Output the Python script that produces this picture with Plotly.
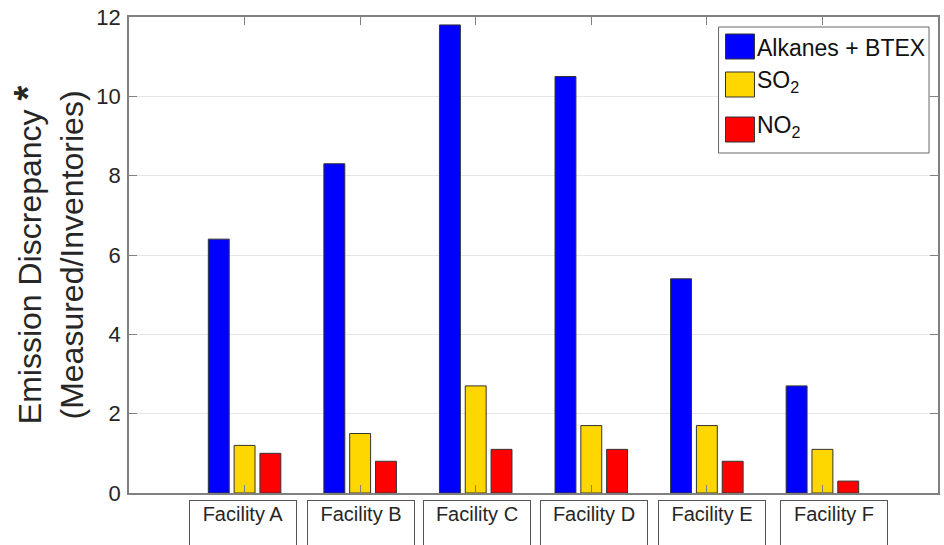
import plotly.graph_objects as go

facilities = ["Facility A", "Facility B", "Facility C", "Facility D", "Facility E", "Facility F"]
series_names = ["Alkanes + BTEX", "SO<sub>2</sub>", "NO<sub>2</sub>"]
alkanes_btex = [6.4, 8.3, 11.8, 10.5, 5.4, 2.7]
so2 = [1.2, 1.5, 2.7, 1.7, 1.7, 1.1]
no2 = [1.0, 0.8, 1.1, 1.1, 0.8, 0.3]
y_ticks = [0, 2, 4, 6, 8, 10, 12]

colors = ["#0000FF", "#FFD700", "#FF0000"]
label_xshift = [-2, 1, 1, 3, 5, 12]

W, H = 944, 545
L, R, T, B = 129, 940, 17, 493  # plot area in pixels

def px_x(p):
    return (p - L) / (R - L)

def px_y(p):
    return (B - p) / (B - T)

FONT = "Liberation Sans, Arial, sans-serif"

fig = go.Figure()
for name, vals, col in zip(series_names, [alkanes_btex, so2, no2], colors):
    fig.add_trace(go.Bar(
        x=facilities, y=vals, name=name,
        marker=dict(color=col, line=dict(color="#333333", width=1)),
        showlegend=False,
    ))

fig.update_layout(
    width=W, height=H,
    margin=dict(l=L, r=W - R, t=T, b=H - B, pad=0),
    paper_bgcolor="white", plot_bgcolor="white",
    barmode="group", bargap=0.33, bargroupgap=0.19,
    font=dict(family=FONT, color="#262626"),
)

fig.update_xaxes(
    type="category", range=[-1, len(facilities)],
    showticklabels=False, ticks="inside", ticklen=8, tickcolor="#808080",
    showline=True, linecolor="#808080", linewidth=1.5, mirror="ticks",
    showgrid=False, zeroline=False,
)
fig.update_yaxes(
    range=[0, 12], tickvals=y_ticks, ticks="inside", ticklen=8, tickcolor="#808080",
    showline=True, linecolor="#808080", linewidth=1.5, mirror="ticks",
    showgrid=True, gridcolor="#E6E6E6", gridwidth=1, zeroline=False,
    tickfont=dict(size=22, family=FONT, color="#262626"),
    ticklabelstandoff=2,
)

# Y-axis title as annotation
fig.add_annotation(
    xref="paper", yref="paper", x=px_x(48), y=px_y(255),
    text="Emission Discrepancy <span style='font-size:38px'><b>*</b></span>"
         "<br>(Measured/Inventories)",
    textangle=-90, showarrow=False, xanchor="center", yanchor="middle",
    font=dict(size=32, family=FONT, color="#262626"),
)

# Facility labels in boxes
for i, (fac, xs) in enumerate(zip(facilities, label_xshift)):
    fig.add_annotation(
        x=fac, xref="x", yref="paper", y=px_y(500),
        text=fac, showarrow=False, xanchor="center", yanchor="top",
        xshift=xs, width=102, height=60, valign="top", align="center",
        bordercolor="#555555", borderwidth=1, borderpad=2, bgcolor="white",
        font=dict(size=20, family=FONT, color="#262626"),
    )

# Manual legend
fig.add_shape(type="rect", xref="paper", yref="paper",
              x0=px_x(720), x1=px_x(931), y0=px_y(153), y1=px_y(27),
              line=dict(color="#666666", width=1), fillcolor="white")
sw_tops = [34, 72, 117]
text_centers = [48, 82, 127]
for name, col, top, tc in zip(series_names, colors, sw_tops, text_centers):
    fig.add_shape(type="rect", xref="paper", yref="paper",
                  x0=px_x(727), x1=px_x(756), y0=px_y(top + 25), y1=px_y(top),
                  line=dict(color="#333333", width=1), fillcolor=col)
    fig.add_annotation(xref="paper", yref="paper", x=px_x(757), y=px_y(tc),
                       text=name, showarrow=False, xanchor="left", yanchor="middle",
                       font=dict(size=23, family=FONT, color="#111111"))

fig.write_html("out.html", config={"displayModeBar": False},
               post_script="document.body.style.margin='0px';")
